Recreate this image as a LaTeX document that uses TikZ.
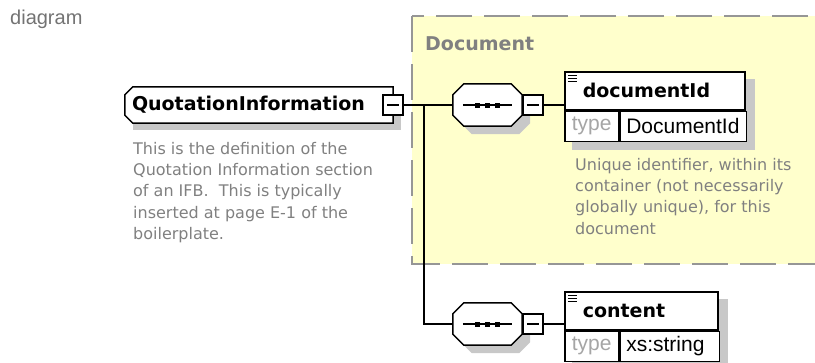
\documentclass[tikz,border=0pt]{standalone}
\usepackage{fontspec}
\setmainfont{DejaVu Sans}
\newfontfamily\arialfont{Liberation Sans}
\usetikzlibrary{positioning,backgrounds}
\definecolor{groupfill}{RGB}{255,255,204}
\definecolor{groupline}{RGB}{150,150,150}
\definecolor{notegray}{RGB}{128,128,128}
\definecolor{typegray}{RGB}{165,165,165}
\definecolor{shadowgray}{RGB}{200,200,200}
\definecolor{captiongray}{RGB}{115,115,115}

% octagon outline of a sequence compositor, shifted by #2
\newcommand{\octpath}[2]{([shift={(#2)},xshift=11pt]#1.north west) -- ([shift={(#2)},xshift=-11pt]#1.north east) -- ([shift={(#2)},yshift=-11pt]#1.north east) -- ([shift={(#2)},yshift=11pt]#1.south east) -- ([shift={(#2)},xshift=-11pt]#1.south east) -- ([shift={(#2)},xshift=11pt]#1.south west) -- ([shift={(#2)},yshift=11pt]#1.south west) -- ([shift={(#2)},yshift=-11pt]#1.north west) -- cycle}

\begin{document}
\begin{tikzpicture}[x=1pt, y=-1pt,
    frame/.style={draw, fill=white, line width=1.5pt},
    shade/.style={fill=shadowgray},
    conn/.style={line width=1.5pt},
    rootbox/.style={minimum width=268pt, minimum height=36pt, text width=254pt, inner xsep=7pt, inner ysep=0pt, align=left, font=\bfseries\fontsize{19}{19}\selectfont},
    seq/.style={minimum width=69pt, minimum height=42pt, inner sep=0pt},
    minus/.style={draw, fill=white, line width=1.5pt, minimum size=20pt, inner sep=0pt,
      path picture={\draw[line width=1.5pt] ([xshift=4pt]path picture bounding box.west) -- ([xshift=-4pt]path picture bounding box.east);}},
    elem/.style={draw, fill=white, line width=1.5pt, minimum height=38pt, inner xsep=18pt, inner ysep=0pt, align=left, font=\bfseries\fontsize{19}{19}\selectfont,
      path picture={\foreach \dy in {4,7,10} \draw[line width=1pt] ([shift={(3pt,-\dy pt)}]path picture bounding box.north west) -- ++(9pt,0pt);}},
    typekey/.style={draw, fill=white, line width=1.5pt, minimum width=54pt, minimum height=30pt, inner sep=0pt, text=typegray, font=\arialfont\fontsize{21}{21}\selectfont},
    typeval/.style={draw, fill=white, line width=1.5pt, minimum height=30pt, inner xsep=6pt, inner ysep=0pt, align=left, font=\arialfont\fontsize{21}{21}\selectfont},
    note/.style={anchor=north west, inner sep=0pt, align=left, text=notegray, font=\fontsize{16}{21.3}\selectfont}
  ]
    \useasboundingbox (0,0) rectangle (815,362);
    \node[anchor=base west, inner sep=0pt, text=captiongray, font=\arialfont\fontsize{20}{20}\selectfont] (caption) at (10,24) {diagram};
    \node[anchor=west, inner sep=0pt, text=notegray, font=\bfseries\fontsize{19}{19}\selectfont] (grouplabel) at (425,44) {Document};

    \node[rootbox] (root) at (259,105) {QuotationInformation};
    \node[minus] (rootm) at (root.east) {};
    \node[note] (rootnote) at (133,142) {This is the definition of the\\Quotation Information section\\of an IFB.\ \ This is typically\\inserted at page E-1 of the\\boilerplate.};

    \node[seq] (seq1) at (487.5,105) {};
    \node[minus, right=0pt of seq1] (seq1m) {};
    \node[elem, text width=144pt, anchor=north west] (docid) at (564,71) {documentId};
    \node[typekey, anchor=north west] (docidkey) at (docid.south west) {type};
    \node[typeval, text width=114pt, right=0pt of docidkey] (docidval) {DocumentId};
    \node[note] (docidnote) at (575,158) {Unique identifier, within its\\container (not necessarily\\globally unique), for this\\document};

    \node[seq] (seq2) at (487.5,324) {};
    \node[minus, right=0pt of seq2] (seq2m) {};
    \node[elem, text width=117pt, anchor=north west] (content) at (564,291) {content};
    \node[typekey, anchor=north west] (contentkey) at (content.south west) {type};
    \node[typeval, text width=87pt, right=0pt of contentkey] (contentval) {xs:string};

    % connectors
    \coordinate (fork) at ([xshift=20pt]rootm.east);
    \draw[conn] (rootm.east) -- (seq1.west);
    \draw[conn] (fork) |- (seq2.west);
    \draw[conn] (seq1m.east) -- (seq1m.east -| docid.west);
    \draw[conn] (seq2m.east) -- (seq2m.east -| content.west);

    \begin{scope}[on background layer]
      \clip (0,0) rectangle (815,362);
      \fill[groupfill] (412,16) rectangle (818,264);
      \draw[groupline, line width=2pt, dash pattern=on 36pt off 12pt] (412,16) rectangle (818,264);
      \fill[shade] ([shift={(8pt,-7pt)}]root.north west) rectangle ([shift={(8pt,-7pt)}]root.south east);
      \filldraw[frame] ([xshift=8pt]root.north west) -- (root.north east) -- (root.south east) -- ([xshift=8pt]root.south west) -- ([yshift=8pt]root.south west) -- ([yshift=-8pt]root.north west) -- cycle;
      \foreach \s in {seq1,seq2} {
        \fill[shade] \octpath{\s}{8pt,-8pt};
        \filldraw[frame] \octpath{\s}{0pt,0pt};
        \draw[conn] ([xshift=10pt]\s.west) -- ([xshift=-10pt]\s.east);
        \foreach \dx in {-10,0,10}
          \fill ([xshift=\dx pt]\s.center) +(-2.5pt,-2.5pt) rectangle +(2.5pt,2.5pt);
      }
      \fill[shade] ([shift={(8pt,-8pt)}]docid.north west) rectangle ([shift={(8pt,-8pt)}]docidval.south east);
      \fill[shade] ([shift={(8pt,-8pt)}]content.north west) rectangle ([shift={(8pt,-8pt)}]contentval.south east);
    \end{scope}
  \end{tikzpicture}
\end{document}
